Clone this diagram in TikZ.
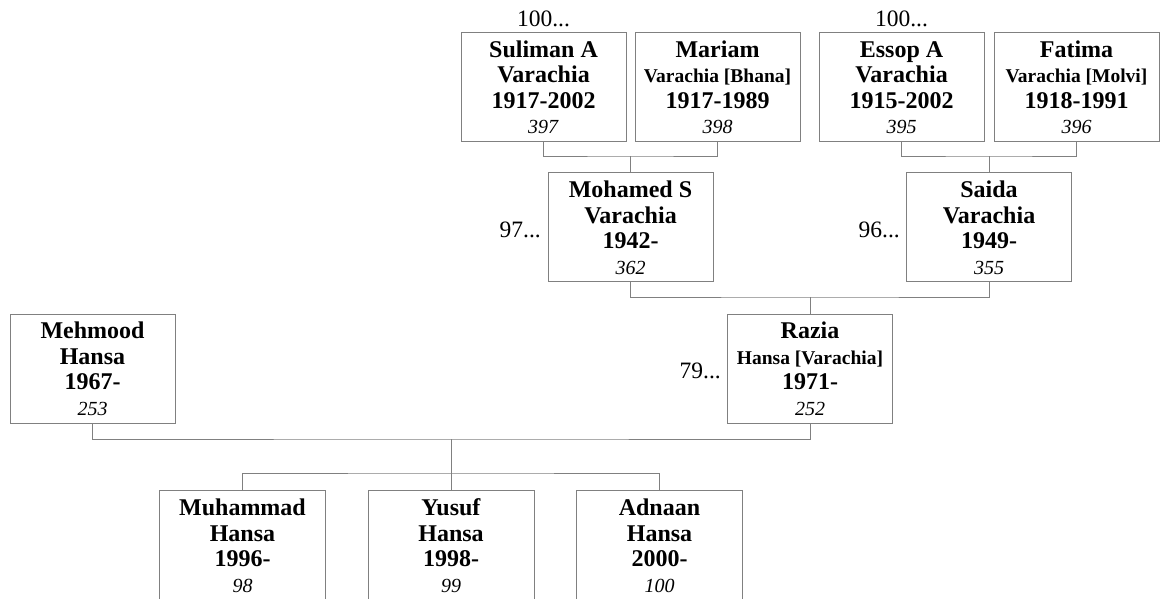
\documentclass[tikz,border=0pt]{standalone}
\usepackage{fontspec}
\setmainfont{Liberation Serif}
\definecolor{linegray}{RGB}{128,128,128}
\newcommand\nmf[1]{\rule{0pt}{17.5pt}\textbf{#1}}
\newcommand\nmb[1]{\textbf{#1}}
\newcommand\snb[1]{{\fontsize{19.5}{25.5}\selectfont\textbf{#1}}}
\newcommand\idn[1]{{\fontsize{20}{25.5}\selectfont\textit{#1}}}
\tikzset{
  person/.style={draw=linegray, line width=0.9pt, minimum width=165pt, minimum height=109pt,
    inner sep=0pt, align=center, font=\fontsize{24}{25.5}\selectfont},
  childbox/.style={person, draw=none},
  link/.style={draw=linegray, line width=0.9pt},
  refnum/.style={inner sep=0pt, font=\fontsize{23.5}{25.5}\selectfont}
}
\begin{document}
\begin{tikzpicture}[x=1pt,y=-1pt]
\useasboundingbox (0,0) rectangle (1166,599);
% generation 1
\node[person] (s) at (543.5,87) {\nmf{Suliman A}\\\nmb{Varachia}\\\nmb{1917-2002}\\\idn{397}};
\node[person] (mar) at (717.5,87) {\nmf{Mariam}\\\snb{Varachia [Bhana]}\\\nmb{1917-1989}\\\idn{398}};
\node[person] (e) at (901.5,87) {\nmf{Essop A}\\\nmb{Varachia}\\\nmb{1915-2002}\\\idn{395}};
\node[person] (f) at (1076.5,87) {\nmf{Fatima}\\\snb{Varachia [Molvi]}\\\nmb{1918-1991}\\\idn{396}};
\node[refnum, anchor=base] (ls) at (543.5,26.7) {100...};
\node[refnum, anchor=base] (le) at (901.5,26.7) {100...};
% generation 2
\node[person] (mo) at (630.5,227.2) {\nmf{Mohamed S}\\\nmb{Varachia}\\\nmb{1942-}\\\idn{362}};
\node[person] (sa) at (989,227.2) {\nmf{Saida}\\\nmb{Varachia}\\\nmb{1949-}\\\idn{355}};
\node[refnum, anchor=base east] (lmo) at (541,237) {97...};
\node[refnum, anchor=base east] (lsa) at (900,237) {96...};
% generation 3
\node[person] (me) at (92.5,368.5) {\nmf{Mehmood}\\\nmb{Hansa}\\\nmb{1967-}\\\idn{253}};
\node[person] (r) at (810,368.5) {\nmf{Razia}\\\snb{Hansa [Varachia]}\\\nmb{1971-}\\\idn{252}};
\node[refnum, anchor=base east] (lr) at (721,378) {79...};
% children (bottom edge lies outside the picture)
\node[childbox] (c1) at (242.5,545.2) {\nmf{Muhammad}\\\nmb{Hansa}\\\nmb{1996-}\\\idn{98}};
\node[childbox] (c2) at (451,545.2) {\nmf{Yusuf}\\\nmb{Hansa}\\\nmb{1998-}\\\idn{99}};
\node[childbox] (c3) at (659.5,545.2) {\nmf{Adnaan}\\\nmb{Hansa}\\\nmb{2000-}\\\idn{100}};
\foreach \c in {c1,c2,c3}{
  \draw[link] ([yshift=-6pt]\c.south west) -- (\c.north west) -- (\c.north east) -- ([yshift=-6pt]\c.south east);
}
% connectors
\coordinate (j1) at (630.5,156);
\draw[link] (s.south) |- (j1) -| (mar.south);
\draw[link] (j1) -- (mo.north);
\coordinate (j2) at (989,156);
\draw[link] (e.south) |- (j2) -| (f.south);
\draw[link] (j2) -- (sa.north);
\coordinate (j3) at (810,297);
\draw[link] (mo.south) |- (j3) -| (sa.south);
\draw[link] (j3) -- (r.north);
\coordinate (j4) at (451,439);
\coordinate (j5) at (451,473);
\draw[link] (me.south) |- (j4) -| (r.south);
\draw[link] (j4) -- (j5);
\draw[link] (c1.north) |- (j5) -| (c3.north);
\draw[link] (j5) -- (c2.north);
\end{tikzpicture}
\end{document}
